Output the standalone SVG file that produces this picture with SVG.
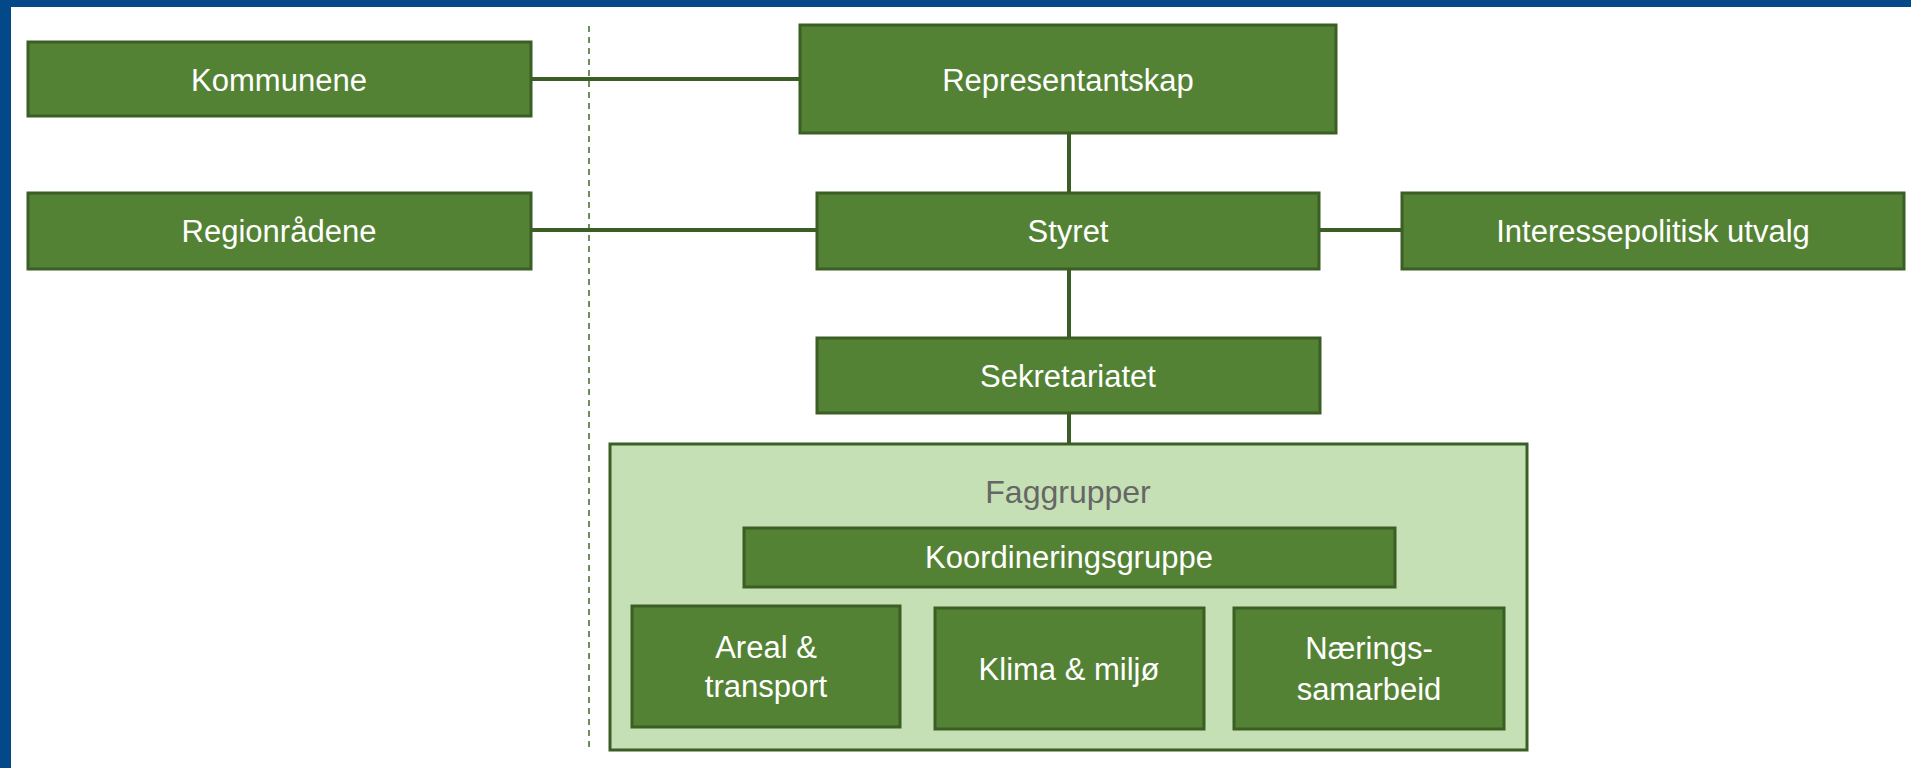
<svg xmlns="http://www.w3.org/2000/svg" width="1911" height="768" viewBox="0 0 1911 768">
<style>
.box{fill:#548235;stroke:#3B5E24;stroke-width:3}
.outer{fill:#C5E0B4;stroke:#3B5E24;stroke-width:3}
.t{font-family:"Liberation Sans",Arial,sans-serif;font-size:31px;fill:#FFFFFF;text-anchor:middle}
.g{font-family:"Liberation Sans",Arial,sans-serif;font-size:32px;fill:#666666;text-anchor:middle}
.c{stroke:#3B5E24;stroke-width:4;fill:none}
</style>
<rect x="0" y="0" width="1911" height="768" fill="#FFFFFF"/>
<rect x="0" y="0" width="1911" height="7" fill="#03498A"/>
<rect x="0" y="0" width="11" height="768" fill="#03498A"/>
<line x1="589" y1="26" x2="589" y2="748" stroke="#6F8E5E" stroke-width="2" stroke-dasharray="6 5"/>
<g id="connectors">
<line class="c" x1="531" y1="79" x2="800" y2="79"/>
<line class="c" x1="531" y1="230" x2="817" y2="230"/>
<line class="c" x1="1319" y1="230" x2="1402" y2="230"/>
<line class="c" x1="1069" y1="133" x2="1069" y2="193"/>
<line class="c" x1="1069" y1="269" x2="1069" y2="338"/>
<line class="c" x1="1069" y1="413" x2="1069" y2="444"/>
</g>
<g id="kommunene"><rect class="box" x="28" y="42" width="503" height="74"/><text class="t" x="279" y="91">Kommunene</text></g>
<g id="regionradene"><rect class="box" x="28" y="193" width="503" height="76"/><text class="t" x="279" y="242">Regionrådene</text></g>
<g id="representantskap"><rect class="box" x="800" y="25" width="536" height="108"/><text class="t" x="1068" y="91">Representantskap</text></g>
<g id="styret"><rect class="box" x="817" y="193" width="502" height="76"/><text class="t" x="1068" y="242">Styret</text></g>
<g id="interessepolitisk"><rect class="box" x="1402" y="193" width="502" height="76"/><text class="t" x="1653" y="242">Interessepolitisk utvalg</text></g>
<g id="sekretariatet"><rect class="box" x="817" y="338" width="503" height="75"/><text class="t" x="1068" y="387">Sekretariatet</text></g>
<g id="faggrupper"><rect class="outer" x="610" y="444" width="917" height="306"/><text class="g" x="1068" y="503">Faggrupper</text></g>
<g id="koordineringsgruppe"><rect class="box" x="744" y="528" width="651" height="59"/><text class="t" x="1069" y="568">Koordineringsgruppe</text></g>
<g id="areal"><rect class="box" x="632" y="606" width="268" height="121"/><text class="t" x="766" y="658">Areal &amp;</text><text class="t" x="766" y="697">transport</text></g>
<g id="klima"><rect class="box" x="935" y="608" width="269" height="121"/><text class="t" x="1069" y="680">Klima &amp; miljø</text></g>
<g id="naering"><rect class="box" x="1234" y="608" width="270" height="121"/><text class="t" x="1369" y="659">Nærings-</text><text class="t" x="1369" y="700">samarbeid</text></g>
</svg>
